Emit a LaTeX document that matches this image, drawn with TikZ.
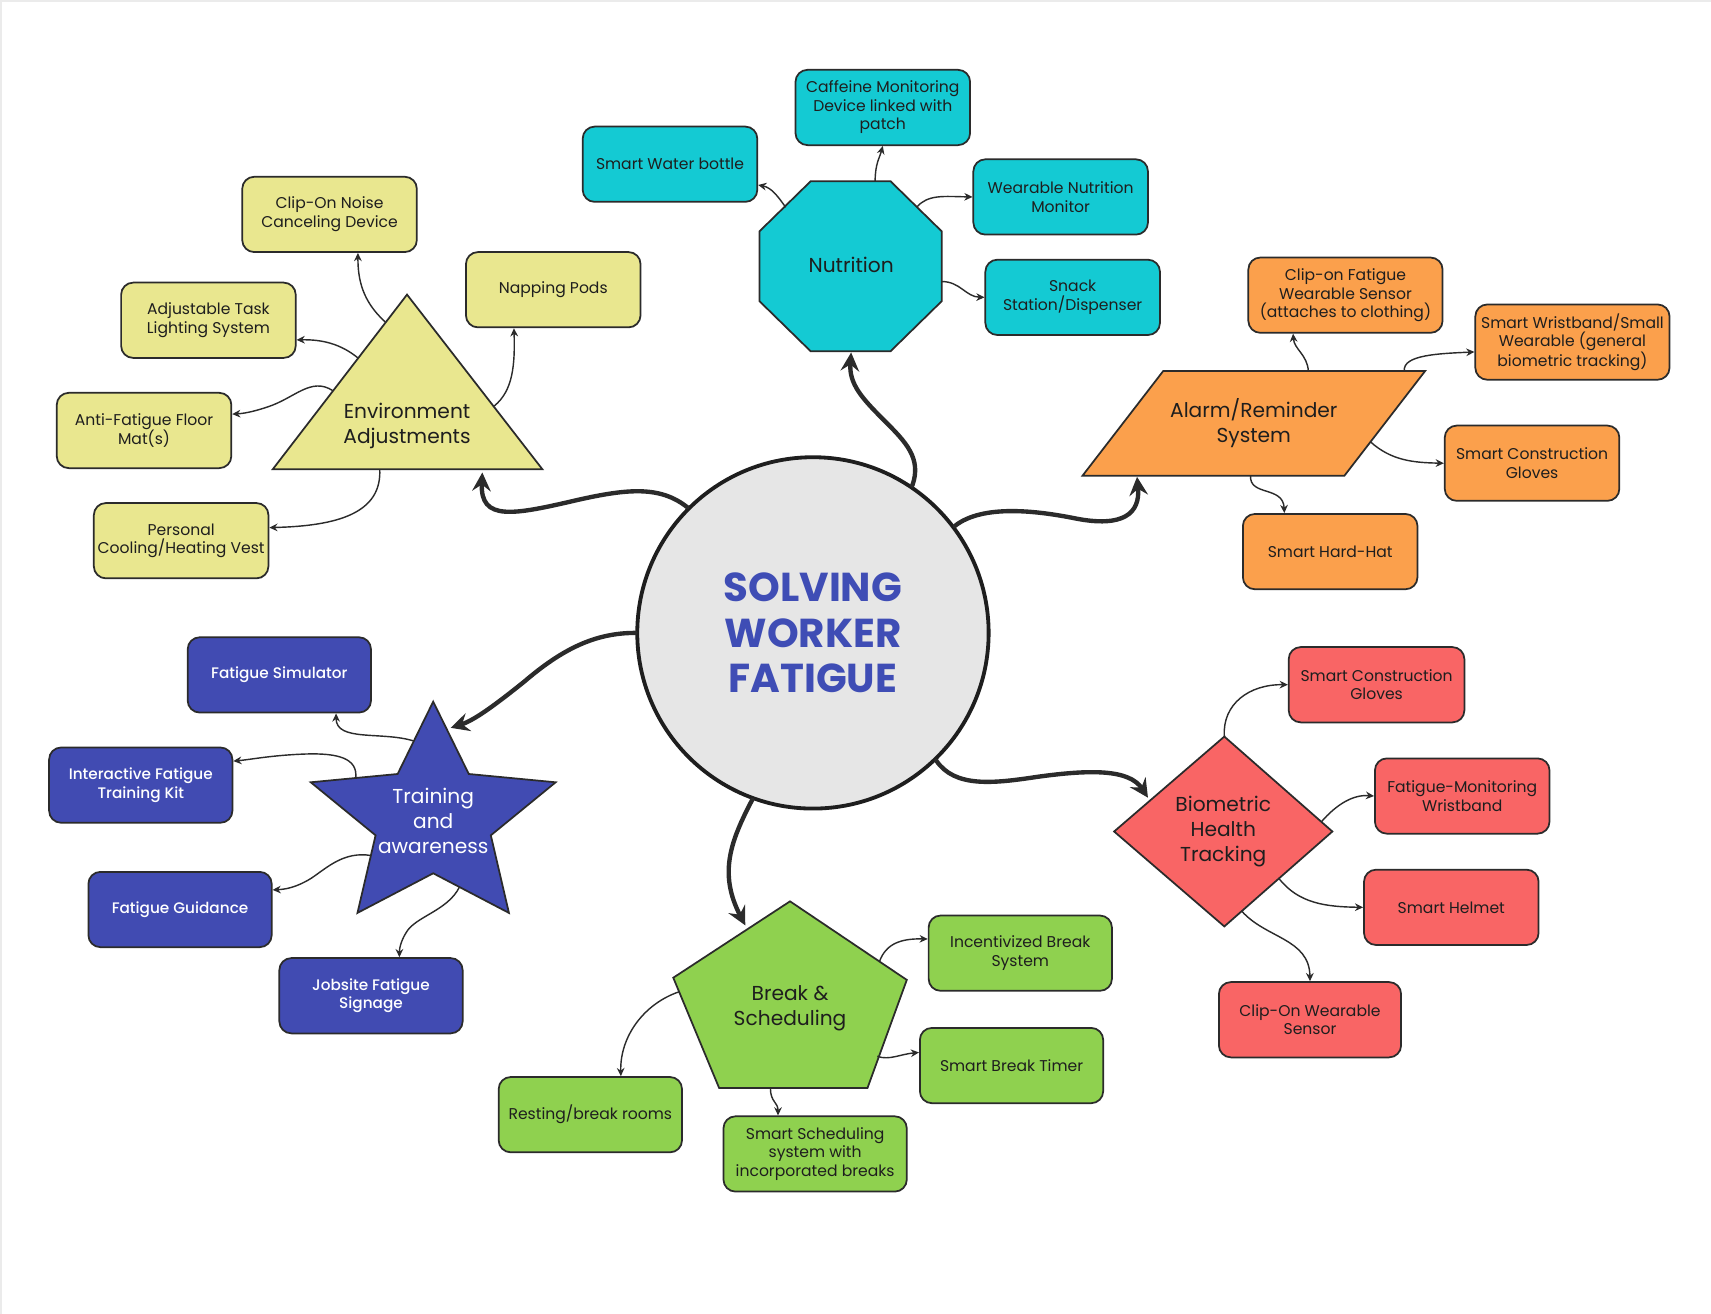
\documentclass[tikz,border=0pt]{standalone}
\usepackage{fontspec}
\setmainfont{Poppins}
\IfFontExistsTF{Poppins Medium}{\newfontfamily\popmed{Poppins Medium}}{\newfontfamily\popmed{Poppins}[FakeBold=0.4]}
\usetikzlibrary{arrows.meta}
\definecolor{cyel}{HTML}{E9E78F}
\definecolor{ccyan}{HTML}{14CAD3}
\definecolor{corange}{HTML}{FBA04C}
\definecolor{cblue}{HTML}{414BB2}
\definecolor{cgreen}{HTML}{8FD14F}
\definecolor{cred}{HTML}{F96565}
\definecolor{cgray}{HTML}{E6E6E6}
\definecolor{cline}{HTML}{2B2B2B}
\definecolor{ctext}{HTML}{1E1E1E}
\definecolor{ctitle}{HTML}{3F4DB5}
\begin{document}
\begin{tikzpicture}[x=1pt,y=-1pt,
  box/.style={draw=cline, line width=1.6pt, rounded corners=11pt, minimum width=160pt,
    minimum height=69pt, align=center, font=\fontsize{14.3}{17}\selectfont, text=ctext, inner sep=1pt},
  ybox/.style={box, fill=cyel},
  cbox/.style={box, fill=ccyan},
  obox/.style={box, fill=corange},
  bbox/.style={box, fill=cblue, text=white, minimum width=168pt, font=\fontsize{14}{17}\selectfont\popmed},
  gbox/.style={box, fill=cgreen, minimum width=168pt},
  rbox/.style={box, fill=cred},
  shapeline/.style={draw=cline, line width=1.6pt, line join=miter},
  shapelabel/.style={align=center, font=\fontsize{18.5}{23}\selectfont, text=ctext},
  thin/.style={draw=cline, line width=1.3pt, -{Stealth[length=7.5pt,width=7pt]}},
  thick/.style={draw=cline, line width=4pt, line cap=round, -{Stealth[length=17pt,width=17pt,inset=6pt]}}
]
\useasboundingbox[fill=white] (0,0) rectangle (1568,1204);
\draw[black!8, line width=2pt] (1,1204) -- (1,1) -- (1568,1);

% ---------- centre ----------
\node[circle, draw=ctext, line width=3.5pt, fill=cgray, minimum size=322pt, align=center,
  font=\fontsize{37}{42}\selectfont\bfseries, text=ctitle] (hub) at (745,580)
  {SOLVING\\WORKER\\FATIGUE};

% ---------- main shapes ----------
% Environment triangle
\draw[shapeline, fill=cyel] (373,270) -- (497,430) -- (250,430) -- cycle;
\node[shapelabel] (env) at (373,390) {Environment\\Adjustments};
% Nutrition octagon
\draw[shapeline, fill=ccyan] (743,166) -- (816,166) -- (863,212) -- (863,276) -- (816,322)
  -- (743,322) -- (696,276) -- (696,212) -- cycle;
\node[shapelabel] (nut) at (780,243) {Nutrition};
% Alarm parallelogram
\draw[shapeline, fill=corange] (992,436) -- (1066,340) -- (1306,340) -- (1232,436) -- cycle;
\node[shapelabel] (alarm) at (1149,388) {Alarm/Reminder\\System};
% Training star
\draw[shapeline, fill=cblue] (397,643) -- (429.6,709.3) -- (509.2,716.9) -- (449.8,765.5)
  -- (466.4,836.6) -- (397,800.3) -- (327.6,836.6) -- (344.2,765.5) -- (284.8,716.9)
  -- (364.4,709.3) -- cycle;
\node[shapelabel, text=white] (train) at (397,752) {Training\\and\\awareness};
% Break pentagon
\draw[shapeline, fill=cgreen] (724,826) -- (831,898) -- (795,997) -- (659,997) -- (617,896) -- cycle;
\node[shapelabel] (brk) at (724,924) {Break \&\\Scheduling};
% Biometric diamond
\draw[shapeline, fill=cred] (1122,675) -- (1221,762) -- (1122,849) -- (1021,762) -- cycle;
\node[shapelabel] (bio) at (1121,762) {Biometric\\Health\\Tracking};

% ---------- boxes ----------
\node[ybox] (noise) at (302,196.5) {Clip-On Noise\\Canceling Device};
\node[ybox] (nap) at (507,265.5) {Napping Pods};
\node[ybox] (adj) at (191,293.5) {Adjustable Task\\Lighting System};
\node[ybox] (anti) at (132,394.5) {Anti-Fatigue Floor\\Mat(s)};
\node[ybox] (vest) at (166,495.5) {Personal\\Cooling/Heating Vest};

\node[cbox] (water) at (614,150.5) {Smart Water bottle};
\node[cbox] (caff) at (809,98.5) {Caffeine Monitoring\\Device linked with\\patch};
\node[cbox] (wear) at (972,180.5) {Wearable Nutrition\\Monitor};
\node[cbox] (snack) at (983,272.5) {Snack\\Station/Dispenser};

\node[obox, minimum width=178pt] (clipf) at (1233,270.5) {Clip-on Fatigue\\Wearable Sensor\\(attaches to clothing)};
\node[obox, minimum width=178pt] (wrist) at (1441,313.5) {Smart Wristband/Small\\Wearable (general\\biometric tracking)};
\node[obox] (agloves) at (1404,424.5) {Smart Construction\\Gloves};
\node[obox] (hat) at (1219,505.5) {Smart Hard-Hat};

\node[bbox] (sim) at (256,618.5) {Fatigue Simulator};
\node[bbox] (inter) at (129,719.5) {Interactive Fatigue\\Training Kit};
\node[bbox] (guide) at (165,833.5) {Fatigue Guidance};
\node[bbox] (job) at (340,912.5) {Jobsite Fatigue\\Signage};

\node[gbox] (inc) at (935,873.5) {Incentivized Break\\System};
\node[gbox] (timer) at (927,976.5) {Smart Break Timer};
\node[gbox] (sched) at (747,1057.5) {Smart Scheduling\\system with\\incorporated breaks};
\node[gbox] (rest) at (541,1021.5) {Resting/break rooms};

\node[rbox, minimum width=161pt] (bgloves) at (1261.5,627.5) {Smart Construction\\Gloves};
\node[rbox] (fwrist) at (1340,729.5) {Fatigue-Monitoring\\Wristband};
\node[rbox] (helmet) at (1330,831.5) {Smart Helmet};
\node[rbox, minimum width=167pt] (cwear) at (1200.5,934.5) {Clip-On Wearable\\Sensor};

% ---------- connector points on the shapes ----------
\coordinate (envtip) at (442,433);
\coordinate (nuttip) at (780,323);
\coordinate (alarmtip) at (1042,437);
\coordinate (traintip) at (413,667);
\coordinate (brktip) at (683,848);
\coordinate (biotip) at (1052,731);

\coordinate (e1) at (353,295);
\coordinate (e2) at (328,328);
\coordinate (e3) at (305,358);
\coordinate (e4) at (348,430);
\coordinate (e5) at (453,372);
\coordinate (n1) at (720,190);
\coordinate (n2) at (802,166);
\coordinate (n3) at (840,190);
\coordinate (n4) at (863,258);
\coordinate (a1) at (1199,340);
\coordinate (a2) at (1287,340);
\coordinate (a3) at (1256,405);
\coordinate (a4) at (1146,436);
\coordinate (t1) at (379,679);
\coordinate (t2) at (326,713);
\coordinate (t3) at (340,784);
\coordinate (t4) at (421,813);
\coordinate (b1) at (806,881);
\coordinate (b2) at (804,968);
\coordinate (b3) at (706,997);
\coordinate (b4) at (622,909);
\coordinate (d1) at (1122,675);
\coordinate (d2) at (1211,753);
\coordinate (d3) at (1172,805);
\coordinate (d4) at (1138,835);

% ---------- main connectors ----------
\draw[thick] (hub.135) .. controls (605,445) and (575,448) .. (530,458)
  .. controls (470,472) and (440,478) .. (envtip);
\draw[thick] (hub.56) .. controls (845,420) and (830,405) .. (810,385)
  .. controls (790,365) and (778,352) .. (nuttip);
\draw[thick] (hub.37) .. controls (900,462) and (950,468) .. (985,475)
  .. controls (1030,484) and (1045,470) .. (alarmtip);
\draw[thick] (hub.180) .. controls (545,580) and (515,595) .. (480,625)
  .. controls (455,645) and (435,660) .. (traintip);
\draw[thick] (hub.-110) .. controls (670,770) and (658,800) .. (brktip);
\draw[thick] (hub.-46) .. controls (875,722) and (910,718) .. (950,712)
  .. controls (1000,705) and (1035,705) .. (biotip);

% ---------- thin connectors ----------
\draw[thin] (e1) .. controls (332,276) and (328,256) .. ([xshift=26pt]noise.south);
\draw[thin] (e2) .. controls (312,315) and (295,311) .. ([yshift=-18pt]adj.east);
\draw[thin] (e3) .. controls (285,345) and (270,365) .. (245,373)
  .. controls (230,378) and (222,379) .. ([yshift=15pt]anti.east);
\draw[thin] (e4) .. controls (350,470) and (310,482) .. ([yshift=12pt]vest.east);
\draw[thin] (e5) .. controls (470,358) and (472,335) .. ([xshift=-36pt]nap.south);

\draw[thin] (n1) .. controls (713,180) and (707,172) .. ([yshift=-19pt]water.east);
\draw[thin] (n2) .. controls (802,150) and (806,145) .. (caff.south);
\draw[thin] (n3) .. controls (850,178) and (865,180) .. (wear.west);
\draw[thin] (n4) .. controls (880,258) and (885,272) .. (snack.west);

\draw[thin] (a1) .. controls (1198,325) and (1186,320) .. ([xshift=-48pt]clipf.south);
\draw[thin] (a2) .. controls (1285,325) and (1320,324) .. ([yshift=-9pt]wrist.west);
\draw[thin] (a3) .. controls (1275,422) and (1295,424) .. (agloves.west);
\draw[thin] (a4) .. controls (1145,455) and (1176,445) .. ([xshift=-42pt]hat.north);

\draw[thin] (t1) .. controls (350,670) and (308,680) .. ([xshift=52pt]sim.south);
\draw[thin] (t2) .. controls (328,695) and (310,690) .. (280,691)
  .. controls (250,692) and (230,696) .. ([yshift=22pt]inter.east);
\draw[thin] (t3) .. controls (315,780) and (300,795) .. (285,805)
  .. controls (272,813) and (262,815) .. ([yshift=18pt]guide.east);
\draw[thin] (t4) .. controls (410,835) and (380,840) .. (372,855)
  .. controls (367,863) and (366,870) .. ([xshift=26pt]job.north);

\draw[thin] (b1) .. controls (812,865) and (825,860) .. ([yshift=13pt]inc.west);
\draw[thin] (b2) .. controls (815,972) and (825,966) .. ([yshift=12pt]timer.west);
\draw[thin] (b3) .. controls (706,1010) and (713,1010) .. ([xshift=-34pt]sched.north);
\draw[thin] (b4) .. controls (590,920) and (568,950) .. ([xshift=28pt]rest.north);

\draw[thin] (d1) .. controls (1120,645) and (1145,627) .. (bgloves.west);
\draw[thin] (d2) .. controls (1225,737) and (1240,728) .. (fwrist.west);
\draw[thin] (d3) .. controls (1190,828) and (1215,831) .. (helmet.west);
\draw[thin] (d4) .. controls (1160,860) and (1200,860) .. (cwear.north);
\end{tikzpicture}
\end{document}
